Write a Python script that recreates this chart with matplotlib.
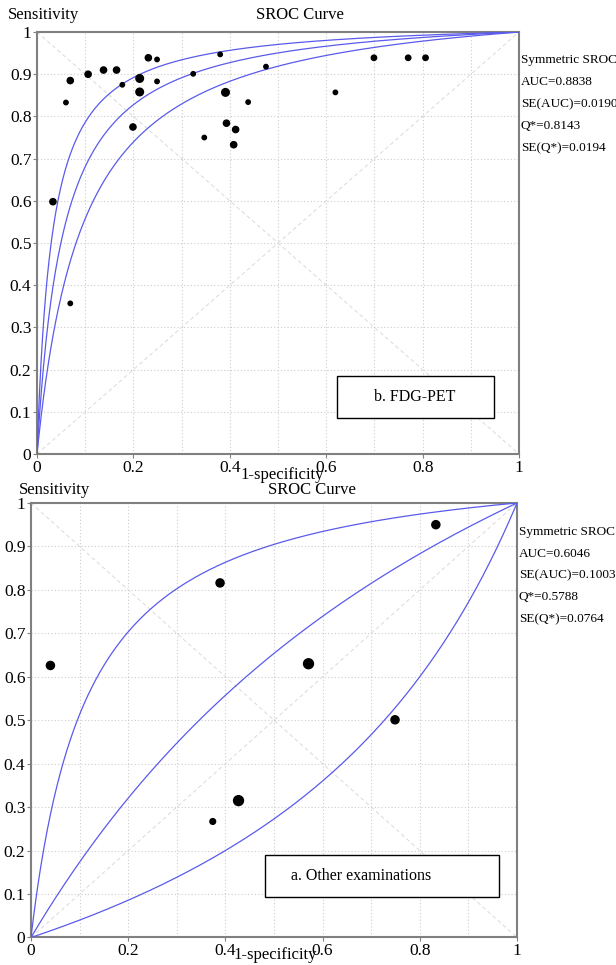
import numpy as np
import matplotlib
matplotlib.use('Agg')
import matplotlib.pyplot as plt
from matplotlib.patches import Rectangle

plt.rcParams['font.family'] = ['Liberation Serif', 'DejaVu Serif']

# ---- panel b: FDG-PET study points (1-specificity, sensitivity, weight)
fdgFpr = [0.033, 0.060, 0.069, 0.106, 0.138, 0.165, 0.177, 0.199, 0.213, 0.213,
          0.231, 0.249, 0.249, 0.324, 0.347, 0.380, 0.391, 0.393, 0.412, 0.408,
          0.438, 0.475, 0.619, 0.699, 0.770, 0.806, 0.069]
fdgSens = [0.598, 0.833, 0.885, 0.900, 0.910, 0.910, 0.875, 0.775, 0.890, 0.858,
           0.939, 0.935, 0.883, 0.901, 0.750, 0.947, 0.857, 0.784, 0.769, 0.733,
           0.834, 0.918, 0.857, 0.939, 0.939, 0.939, 0.357]
fdgWeight = [2, 1, 2, 2, 2, 2, 1, 2, 3, 3,
             2, 1, 1, 1, 1, 1, 3, 2, 2, 2,
             1, 1, 1, 1.5, 1.5, 1.5, 1]
# symmetric SROC: logit(TPR) - logit(FPR) = D  (lower, fitted, upper)
fdgD = [2.43, 2.956, 3.50]
fdgStats = ['Symmetric SROC', 'AUC=0.8838', 'SE(AUC)=0.0190', 'Q*=0.8143', 'SE(Q*)=0.0194']

# ---- panel a: other examinations
othFpr = [0.040, 0.389, 0.571, 0.833, 0.749, 0.374, 0.427]
othSens = [0.626, 0.816, 0.630, 0.950, 0.501, 0.267, 0.315]
othWeight = [2, 2, 3, 2, 2, 1, 3]
othD = [-0.98, 0.636, 2.25]
othStats = ['Symmetric SROC', 'AUC=0.6046', 'SE(AUC)=0.1003', 'Q*=0.5788', 'SE(Q*)=0.0764']

yTicks = [0, 0.1, 0.2, 0.3, 0.4, 0.5, 0.6, 0.7, 0.8, 0.9, 1]
yTickLabels = ['0', '0.1', '0.2', '0.3', '0.4', '0.5', '0.6', '0.7', '0.8', '0.9', '1']
xTicks = [0, 0.2, 0.4, 0.6, 0.8, 1]
xTickLabels = ['0', '0.2', '0.4', '0.6', '0.8', '1']


def sroc(fpr, d):
    odds = np.exp(d) * fpr / (1 - fpr)
    return odds / (1 + odds)


def drawPanel(ax, fpr, sens, weight, dvals, stats, statTop, statStep, boxText, box, textPos, sizeScale):
    ax.set_xlim(0, 1)
    ax.set_ylim(0, 1)
    ax.set_axisbelow(True)
    ax.plot([0, 1], [0, 1], color='#dadada', linestyle=(0, (4, 3)), linewidth=0.7, zorder=1)
    ax.plot([0, 1], [1, 0], color='#dadada', linestyle=(0, (4, 3)), linewidth=0.7, zorder=1)
    xs = np.linspace(1e-5, 1 - 1e-5, 600)
    for d in dvals:
        ax.plot(np.r_[0, xs, 1], np.r_[0, sroc(xs, d), 1], color='#5a5aec', linewidth=0.9, zorder=3)
    ax.scatter(fpr, sens, s=np.array(weight) * sizeScale, color='black', zorder=5)
    ax.set_xticks(xTicks)
    ax.set_xticklabels(xTickLabels)
    ax.set_xticks(np.arange(0, 1.01, 0.1), minor=True)
    ax.set_yticks(yTicks)
    ax.set_yticklabels(yTickLabels)
    ax.tick_params(axis='both', labelsize=12.5, length=3, width=0.8, color='#808080', pad=1)
    ax.tick_params(axis='x', which='minor', length=0)
    ax.grid(True, which='both', color='#cccccc', linestyle=(0, (1, 2)), linewidth=0.8)
    for sp in ax.spines.values():
        sp.set_color('#808080')
        sp.set_linewidth(1.5)
    for i, t in enumerate(stats):
        ax.text(1.004, statTop - i * statStep, t, transform=ax.transAxes, fontsize=9.5,
                ha='left', va='center')
    ax.add_patch(Rectangle((box[0], box[1]), box[2] - box[0], box[3] - box[1],
                           transform=ax.transAxes, facecolor='white', edgecolor='black',
                           linewidth=1.0, zorder=6))
    ax.text(textPos[0], textPos[1], boxText, transform=ax.transAxes, fontsize=11.5,
            ha=textPos[2], va='center', zorder=7)


fig = plt.figure(figsize=(6.16, 9.65), dpi=100)

axTop = fig.add_axes([0.0601, 0.5295, 0.7825, 0.4373])
drawPanel(axTop, fdgFpr, fdgSens, fdgWeight, fdgD, fdgStats, 0.933, 0.052, 'b. FDG-PET',
          (0.622, 0.085, 0.948, 0.185), (0.784, 0.135, 'center'), 10)
fig.text(8 / 616, 1 - 15 / 965, 'Sensitivity', fontsize=12, ha='left', va='center')
fig.text(300 / 616, 1 - 15 / 965, 'SROC Curve', fontsize=12, ha='center', va='center')
fig.text(282 / 616, 1 - 475 / 965, '1-specificity', fontsize=12, ha='center', va='center')

axBot = fig.add_axes([0.0503, 0.0285, 0.789, 0.4503])
drawPanel(axBot, othFpr, othSens, othWeight, othD, othStats, 0.933, 0.05, 'a. Other examinations',
          (0.481, 0.093, 0.963, 0.191), (0.535, 0.142, 'left'), 17)
fig.text(19 / 616, 1 - 490 / 965, 'Sensitivity', fontsize=12, ha='left', va='center')
fig.text(312 / 616, 1 - 490 / 965, 'SROC Curve', fontsize=12, ha='center', va='center')
fig.text(275 / 616, 1 - 955 / 965, '1-specificity', fontsize=12, ha='center', va='center')

fig.savefig('out.png', dpi=100)
